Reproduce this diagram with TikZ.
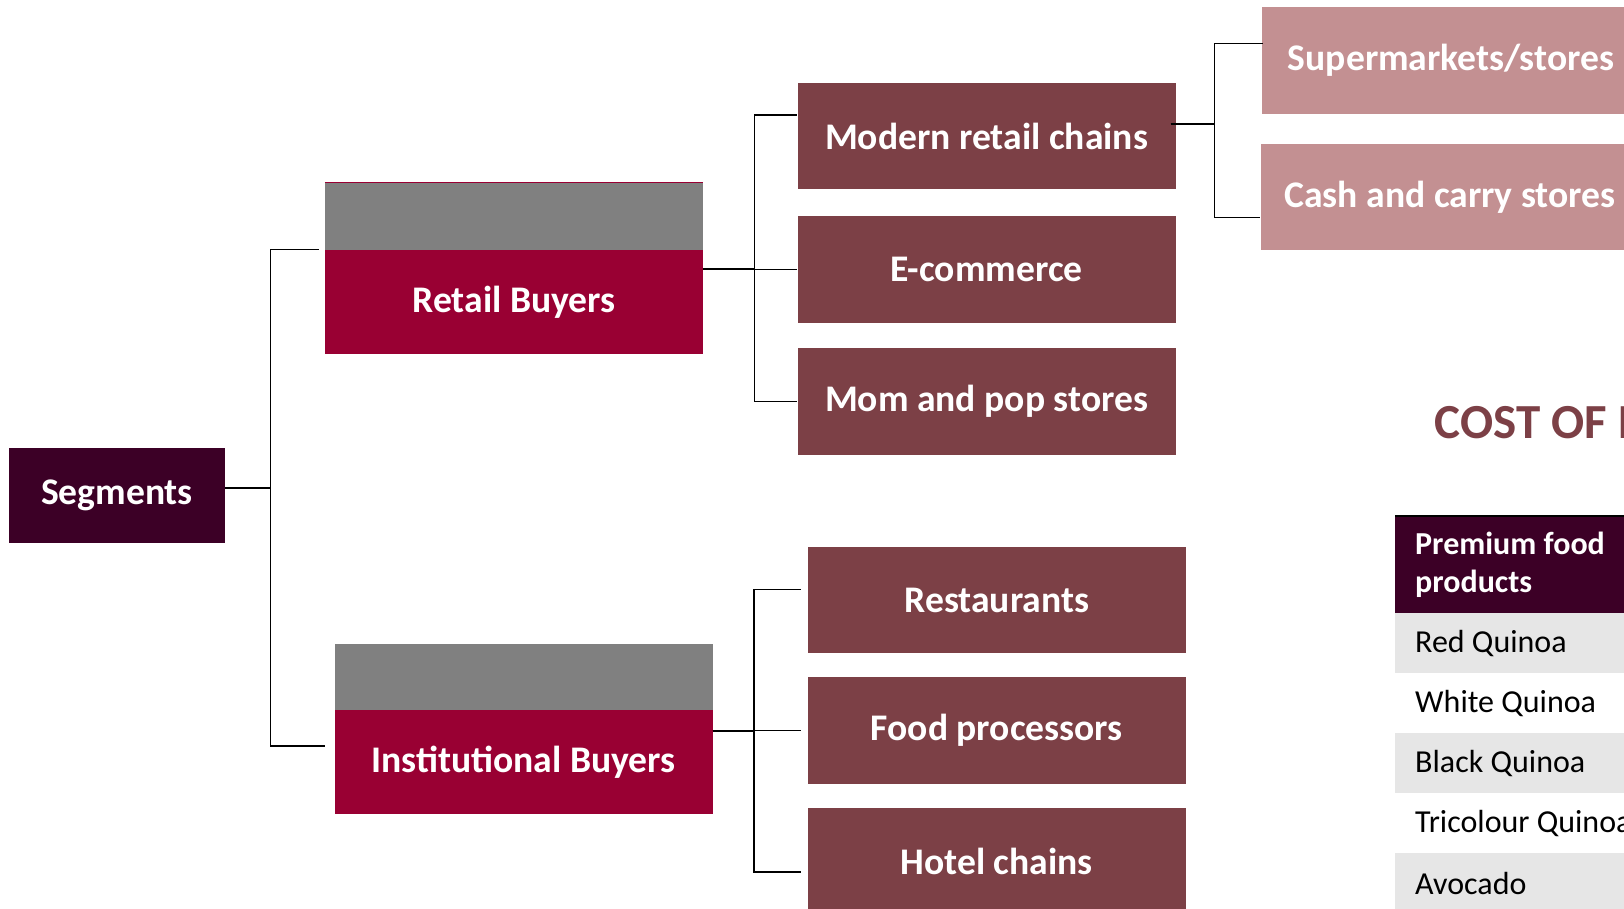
\documentclass[tikz,border=0pt]{standalone}
\usepackage{fontspec}
\setmainfont{Carlito}
\usepackage{tikz}
\usetikzlibrary{calc}

\definecolor{segpurple}{RGB}{60,0,38}
\definecolor{buyerred}{RGB}{153,0,51}
\definecolor{capgrey}{RGB}{128,128,128}
\definecolor{channel}{RGB}{124,64,70}
\definecolor{outlet}{RGB}{195,144,146}
\definecolor{rowgrey}{RGB}{230,230,230}

\begin{document}
\begin{tikzpicture}[x=1pt, y=-1pt,
	box/.style={rectangle, inner sep=0pt, minimum width=378pt, minimum height=106.5pt,
		text=white, font=\fontsize{37.6}{44}\selectfont\bfseries},
	link/.style={draw=black, line width=1.4pt},
	row/.style={rectangle, anchor=north west, minimum height=60pt,
		inner xsep=20pt, inner ysep=0pt, font=\fontsize{32}{38}\selectfont}]
	\useasboundingbox (0,0) rectangle (1624,909);
	\clip (0,0) rectangle (1624,909);

	\node[box, fill=segpurple, minimum width=216pt, minimum height=95pt] (segments) at (117,495.5)
		{Segments};

	% buyer groups: grey cap over the red box
	\node[box, fill=capgrey, minimum height=67pt] (retailcap) at (514,216.5) {};
	\node[box, fill=buyerred, minimum height=104pt] (retail) at (514,302)
		{Retail Buyers};
	\draw[buyerred, line width=1.2pt] (retailcap.north west) -- (retailcap.north east);

	\node[box, fill=capgrey, minimum height=66pt] (instcap) at (523.5,676.5) {};
	\node[box, fill=buyerred, minimum height=104.5pt] (inst) at (523.5,762)
		{Institutional Buyers};

	\node[box, fill=channel] (modern) at (986.5,136.2) {Modern retail chains};
	\node[box, fill=channel] (ecom)   at (986.5,269.3) {E-commerce};
	\node[box, fill=channel] (mompop) at (986.5,401.3) {Mom and pop stores};

	\node[box, fill=channel] (restaurants) at (996.8,600.2) {Restaurants};
	\node[box, fill=channel] (processors)  at (996.8,730.7) {Food processors};
	\node[box, fill=channel] (hotels)      at (996.8,861)   {Hotel chains};

	\node[box, fill=outlet] (supermarkets) at (1451,60.5)  {Supermarkets/stores};
	\node[box, fill=outlet] (cashcarry)    at (1450,197.2) {Cash and carry stores};

	\draw[link] ([yshift=7.5pt]segments.east) -- ++(45,0) |- ([xshift=-6pt]retail.north west);
	\draw[link] ([yshift=7.5pt]segments.east) -- ++(45,0) |- ([xshift=-9.5pt,yshift=16pt]inst.west);

	\draw[link] ([yshift=33pt]retail.east) -- ++(51,0) |- ([yshift=21pt]modern.west);
	\draw[link] ([yshift=33pt]retail.east) -- ++(51,0) |- (ecom.west);
	\draw[link] ([yshift=33pt]retail.east) -- ++(51,0) |- (mompop.west);

	\draw[link] ([yshift=31pt]inst.east) -- ++(41.4,0) |- ([xshift=-7pt,yshift=11pt]restaurants.west);
	\draw[link] ([yshift=31pt]inst.east) -- ++(41.4,0) |- ([xshift=-7pt]processors.west);
	\draw[link] ([yshift=31pt]inst.east) -- ++(41.4,0) |- ([xshift=-7pt,yshift=-11pt]hotels.west);

	\draw[link] ([xshift=-5pt,yshift=12pt]modern.east) -- ++(43.5,0) |- ([xshift=1pt,yshift=17pt]supermarkets.west);
	\draw[link] ([xshift=-5pt,yshift=12pt]modern.east) -- ++(43.5,0) |- ([xshift=-1pt,yshift=-20.5pt]cashcarry.west);

	% cost table on the right
	\node[anchor=base west, inner sep=0pt, text=channel, font=\fontsize{49}{60}\selectfont\bfseries]
		(costtitle) at (1434.5,438) {COST OF P};

	\node[row, fill=segpurple, minimum height=97pt, text=white, align=left,
		font=\fontsize{32}{38}\selectfont\bfseries]
		(header) at (1395,516) {\makebox[220pt][l]{Premium food}\\\makebox[220pt][l]{products}};
	\draw[line width=2pt] (header.north west) -- (header.north east);

	\foreach \item [count=\i] in {Red Quinoa, White Quinoa, Black Quinoa, Tricolour Quinoa, Avocado} {
		\ifodd\i \def\rowfill{rowgrey}\else \def\rowfill{white}\fi
		\node[row, fill=\rowfill] (row\i) at (1395,{613+(\i-1)*60}) {\makebox[220pt][l]{\item}};
	}
\end{tikzpicture}
\end{document}
